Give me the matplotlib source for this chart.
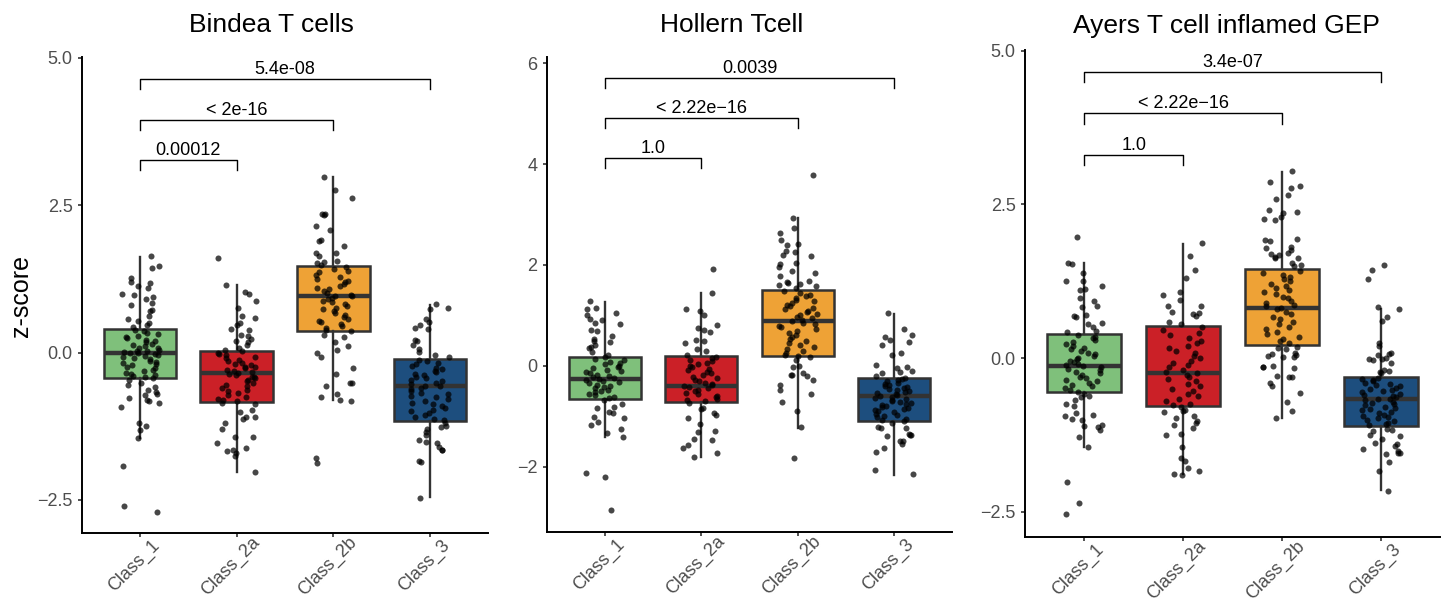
import matplotlib
matplotlib.use("Agg")
import matplotlib.pyplot as plt
import numpy as np
from matplotlib.transforms import ScaledTranslation

plt.rcParams["font.family"] = ["Liberation Sans", "DejaVu Sans"]

CLASSES = ["Class_1", "Class_2a", "Class_2b", "Class_3"]
BOX_COLORS = ["#7fc07b", "#cb2027", "#eea236", "#1d4e7e"]
PAIRS = [(1, 2), (1, 3), (1, 4)]

# --- Bindea T cells ---
bindea_class_1 = [1.63, 1.47, 1.43, 1.27, 1.19, 1.18, 1.13, 1.09, 0.99, 0.97, 0.94, 0.91, 0.84, 0.80,
                  0.72, 0.70, 0.62, 0.56, 0.53, 0.50, 0.46, 0.43,
                  0.39, 0.37, 0.33, 0.31, 0.28, 0.26, 0.24, 0.21, 0.19, 0.17, 0.15, 0.13, 0.11, 0.08,
                  0.07, 0.05, 0.03, 0.02, 0.01, 0.00, -0.01, -0.02, -0.04, -0.06, -0.08, -0.10, -0.11,
                  -0.14, -0.16, -0.18, -0.20, -0.22, -0.25, -0.27, -0.29, -0.31, -0.34, -0.36, -0.38,
                  -0.40, -0.42, -0.44,
                  -0.47, -0.52, -0.55, -0.58, -0.63, -0.67, -0.70, -0.72, -0.77, -0.80, -0.82, -0.86,
                  -0.93, -1.20, -1.25, -1.32, -1.45, -1.92, -2.60, -2.71]
bindea_class_2a = [1.60, 1.15, 1.02, 0.99, 0.88, 0.75, 0.62, 0.58, 0.50, 0.47, 0.40, 0.38, 0.30, 0.28,
                   0.23, 0.20, 0.18, 0.12, 0.07, 0.05,
                   0.02, 0.00, -0.03, -0.05, -0.08, -0.10, -0.13, -0.15, -0.17, -0.19, -0.21, -0.24,
                   -0.25, -0.27, -0.29, -0.31, -0.33, -0.34, -0.36, -0.38, -0.41, -0.42, -0.44, -0.47,
                   -0.49, -0.52, -0.55, -0.57, -0.60, -0.63, -0.66, -0.69, -0.72, -0.75, -0.78, -0.81,
                   -0.83,
                   -0.85, -0.87, -0.97, -1.01, -1.09, -1.10, -1.12, -1.19, -1.29, -1.43, -1.44, -1.53,
                   -1.62, -1.66, -1.67, -1.70, -1.76, -2.02]
bindea_class_2b = [2.98, 2.76, 2.62, 2.35, 2.34, 2.33, 2.15, 2.07, 1.90, 1.89, 1.80, 1.69, 1.68, 1.63,
                   1.55, 1.53, 1.52, 1.49,
                   1.45, 1.42, 1.38, 1.36, 1.31, 1.28, 1.25, 1.22, 1.19, 1.16, 1.12, 1.10, 1.07, 1.04,
                   1.01, 0.98, 0.96, 0.95, 0.93, 0.90, 0.87, 0.85, 0.82, 0.79, 0.76, 0.73, 0.70, 0.67,
                   0.63, 0.60, 0.57, 0.54, 0.51, 0.48, 0.45, 0.42, 0.39,
                   0.37, 0.30, 0.26, 0.17, 0.11, 0.04, 0.00, -0.07, -0.26, -0.37, -0.51, -0.52, -0.57,
                   -0.70, -0.76, -0.81, -0.82, -1.79, -1.87]
bindea_class_3 = [0.82, 0.76, 0.74, 0.57, 0.52, 0.47, 0.42, 0.40, 0.22, 0.20, 0.12, 0.06, 0.01, -0.05,
                  -0.08,
                  -0.12, -0.15, -0.18, -0.20, -0.23, -0.26, -0.28, -0.31, -0.33, -0.36, -0.38, -0.41,
                  -0.44, -0.46, -0.49, -0.51, -0.54, -0.56, -0.57, -0.60, -0.62, -0.65, -0.68, -0.70,
                  -0.73, -0.76, -0.79, -0.82, -0.85, -0.88, -0.91, -0.94, -0.97, -1.00, -1.03, -1.06,
                  -1.09, -1.12, -1.15,
                  -1.20, -1.25, -1.27, -1.29, -1.35, -1.40, -1.49, -1.52, -1.54, -1.60, -1.65, -1.66,
                  -1.84, -1.86, -2.46]
bindea_q1 = [-0.44, -0.84, 0.37, -1.16]
bindea_med = [0.00, -0.34, 0.95, -0.56]
bindea_q3 = [0.40, 0.03, 1.46, -0.11]
bindea_lo = [-1.45, -2.02, -0.81, -2.45]
bindea_hi = [1.62, 1.15, 2.98, 0.80]
bindea_pvals = ["0.00012", "< 2e-16", "5.4e-08"]
bindea_bracket_y = [3.27, 3.95, 4.63]

# --- Hollern Tcell ---
hollern_class_1 = [1.29, 1.14, 1.13, 1.04, 1.01, 0.92, 0.90, 0.85, 0.83, 0.71, 0.70, 0.60, 0.53, 0.49,
                   0.47, 0.42, 0.38, 0.36, 0.27, 0.22,
                   0.17, 0.14, 0.11, 0.08, 0.05, 0.03, 0.00, -0.03, -0.05, -0.08, -0.10, -0.13, -0.15,
                   -0.18, -0.20, -0.22, -0.24, -0.26, -0.27, -0.30, -0.32, -0.34, -0.37, -0.39, -0.42,
                   -0.44, -0.47, -0.49, -0.52, -0.55, -0.58, -0.61, -0.64,
                   -0.68, -0.76, -0.82, -0.84, -0.91, -0.94, -1.01, -1.03, -1.11, -1.17, -1.24, -1.32,
                   -1.40, -2.13, -2.21, -2.85]
hollern_class_2a = [1.93, 1.45, 1.13, 1.08, 1.00, 0.81, 0.76, 0.71, 0.68, 0.52, 0.49, 0.45, 0.33, 0.30,
                    0.22,
                    0.18, 0.15, 0.12, 0.09, 0.06, 0.03, 0.00, -0.03, -0.06, -0.09, -0.12, -0.15, -0.18,
                    -0.21, -0.24, -0.27, -0.30, -0.33, -0.36, -0.38, -0.40, -0.42, -0.44, -0.47, -0.50,
                    -0.53, -0.56, -0.59, -0.62, -0.65, -0.68, -0.70,
                    -0.74, -0.84, -0.86, -0.94, -0.98, -1.03, -1.16, -1.28, -1.31, -1.45, -1.46, -1.56,
                    -1.62, -1.73, -1.80]
hollern_class_2b = [3.78, 2.93, 2.74, 2.64, 2.49, 2.41, 2.40, 2.28, 2.25, 2.19, 2.17, 2.04, 2.01, 1.95,
                    1.89, 1.85, 1.78, 1.68, 1.67, 1.65, 1.62, 1.60, 1.58, 1.55,
                    1.48, 1.45, 1.41, 1.38, 1.35, 1.31, 1.28, 1.25, 1.21, 1.18, 1.15, 1.12, 1.09, 1.06,
                    1.03, 1.00, 0.97, 0.94, 0.91, 0.89, 0.86, 0.83, 0.80, 0.77, 0.73, 0.70, 0.66, 0.62,
                    0.58, 0.54, 0.50, 0.46, 0.42, 0.38, 0.34, 0.30, 0.26, 0.22,
                    0.19, 0.17, 0.11, 0.00, -0.02, -0.14, -0.17, -0.18, -0.20, -0.27, -0.37, -0.48,
                    -0.56, -0.71, -0.89, -1.21, -1.83]
hollern_class_3 = [1.04, 0.74, 0.61, 0.57, 0.52, 0.48, 0.42, 0.26, 0.22, 0.01, -0.03, -0.05, -0.11,
                   -0.13, -0.15, -0.19,
                   -0.23, -0.25, -0.28, -0.30, -0.33, -0.35, -0.37, -0.40, -0.42, -0.44, -0.46, -0.48,
                   -0.50, -0.52, -0.54, -0.56, -0.58, -0.60, -0.61, -0.63, -0.65, -0.67, -0.69, -0.71,
                   -0.73, -0.75, -0.77, -0.79, -0.81, -0.83, -0.85, -0.88, -0.90, -0.92, -0.95, -0.97,
                   -1.00, -1.02, -1.05, -1.07, -1.09,
                   -1.13, -1.21, -1.22, -1.23, -1.35, -1.36, -1.37, -1.38, -1.48, -1.49, -1.54, -1.62,
                   -1.70, -2.06, -2.15]
hollern_q1 = [-0.66, -0.71, 0.20, -1.10]
hollern_med = [-0.26, -0.40, 0.89, -0.60]
hollern_q3 = [0.18, 0.20, 1.50, -0.23]
hollern_lo = [-1.40, -1.80, -1.22, -2.16]
hollern_hi = [1.27, 1.45, 2.93, 1.03]
hollern_pvals = ["1.0", "< 2.22e\u221216", "0.0039"]
hollern_bracket_y = [4.12, 4.91, 5.70]

# --- Ayers T cell inflamed GEP ---
ayers_class_1 = [1.97, 1.55, 1.53, 1.38, 1.26, 1.25, 1.18, 1.12, 1.11, 0.97, 0.92, 0.84, 0.83, 0.70,
                 0.69, 0.66, 0.57, 0.55, 0.51, 0.44, 0.43,
                 0.38, 0.35, 0.32, 0.29, 0.26, 0.23, 0.20, 0.17, 0.14, 0.11, 0.08, 0.06, 0.03, 0.00,
                 -0.02, -0.05, -0.07, -0.10, -0.12, -0.13, -0.15, -0.17, -0.20, -0.22, -0.25, -0.27,
                 -0.30, -0.32, -0.35, -0.37, -0.40, -0.43, -0.46, -0.49, -0.52, -0.55,
                 -0.59, -0.62, -0.64, -0.68, -0.74, -0.78, -0.89, -0.93, -0.95, -0.99, -1.00, -1.09,
                 -1.11, -1.12, -1.17, -1.29, -1.44, -2.01, -2.35, -2.53]
ayers_class_2a = [1.87, 1.66, 1.44, 1.31, 1.07, 1.02, 0.94, 0.85, 0.84, 0.75, 0.74, 0.72, 0.69, 0.58,
                  0.56,
                  0.50, 0.46, 0.41, 0.37, 0.33, 0.28, 0.24, 0.20, 0.16, 0.12, 0.08, 0.04, 0.00, -0.04,
                  -0.08, -0.12, -0.15, -0.19, -0.22, -0.24, -0.27, -0.30, -0.34, -0.38, -0.42, -0.46,
                  -0.50, -0.54, -0.58, -0.62, -0.66, -0.70, -0.74, -0.77,
                  -0.80, -0.85, -0.86, -0.88, -0.94, -0.98, -1.02, -1.06, -1.09, -1.14, -1.23, -1.25,
                  -1.44, -1.63, -1.67, -1.78, -1.84, -1.88, -1.90]
ayers_class_2b = [3.04, 2.86, 2.80, 2.76, 2.66, 2.58, 2.40, 2.37, 2.36, 2.29, 2.26, 2.25, 1.93, 1.92,
                  1.91, 1.80, 1.79, 1.76, 1.71, 1.70, 1.68, 1.65, 1.63, 1.62, 1.54, 1.52, 1.50,
                  1.42, 1.39, 1.35, 1.32, 1.28, 1.25, 1.21, 1.18, 1.14, 1.11, 1.07, 1.04, 1.00, 0.97,
                  0.93, 0.90, 0.87, 0.84, 0.82, 0.79, 0.75, 0.71, 0.67, 0.63, 0.59, 0.55, 0.51, 0.47,
                  0.43, 0.39, 0.35, 0.31, 0.27, 0.24,
                  0.18, 0.17, 0.15, 0.09, 0.06, 0.05, 0.03, 0.02, 0.01, -0.13, -0.14, -0.15, -0.16,
                  -0.29, -0.30, -0.31, -0.40, -0.45, -0.57, -0.72, -0.86, -0.97]
ayers_class_3 = [1.51, 1.44, 1.28, 0.83, 0.80, 0.66, 0.61, 0.25, 0.19, 0.08, 0.06, 0.05, 0.00, -0.01,
                 -0.02, -0.03, -0.08, -0.20, -0.21, -0.22, -0.24,
                 -0.32, -0.34, -0.36, -0.38, -0.40, -0.42, -0.44, -0.46, -0.48, -0.50, -0.52, -0.54,
                 -0.56, -0.58, -0.60, -0.62, -0.64, -0.66, -0.67, -0.69, -0.71, -0.73, -0.75, -0.77,
                 -0.79, -0.81, -0.83, -0.85, -0.87, -0.89, -0.92, -0.94, -0.96, -0.98, -1.00, -1.03,
                 -1.05, -1.07, -1.09,
                 -1.15, -1.17, -1.18, -1.25, -1.26, -1.32, -1.38, -1.40, -1.43, -1.48, -1.51, -1.54,
                 -1.55, -1.56, -1.69, -1.83, -2.16]
ayers_q1 = [-0.56, -0.78, 0.22, -1.11]
ayers_med = [-0.13, -0.24, 0.82, -0.67]
ayers_q3 = [0.39, 0.52, 1.45, -0.31]
ayers_lo = [-1.45, -1.89, -0.97, -2.14]
ayers_hi = [1.55, 1.86, 3.02, 0.80]
ayers_pvals = ["1.0", "< 2.22e\u221216", "3.4e-07"]
ayers_bracket_y = [3.31, 3.98, 4.66]

FIG_W, FIG_H = 1447, 602


def px_axes(fig, left, top, right, bottom):
    return fig.add_axes([left / FIG_W, 1 - bottom / FIG_H, (right - left) / FIG_W, (bottom - top) / FIG_H])


def jitter_offsets(n, seed, width=0.2):
    # deterministic scatter of horizontal offsets in [-width, width]
    k = np.arange(n) + 1.0
    frac = (np.sin(k * 12.9898 + seed * 78.233) * 43758.5453) % 1.0
    return (frac - 0.5) * 2 * width


def draw_panel(ax, groups, q1, med, q3, lo, hi, pvals, bracket_y, yticks, ylim, seed):
    stats = []
    for i in range(4):
        stats.append({"whislo": lo[i], "q1": q1[i], "med": med[i], "q3": q3[i],
                      "whishi": hi[i], "fliers": []})
    bp = ax.bxp(stats, positions=[1, 2, 3, 4], widths=0.75, patch_artist=True,
                showcaps=False, showfliers=False,
                boxprops={"edgecolor": "#333333", "linewidth": 1.8},
                medianprops={"color": "#333333", "linewidth": 3.2, "solid_capstyle": "butt"},
                whiskerprops={"color": "#333333", "linewidth": 1.7})
    for patch, color in zip(bp["boxes"], BOX_COLORS):
        patch.set_facecolor(color)
        patch.set_zorder(2)

    for i, values in enumerate(groups):
        jitter = jitter_offsets(len(values), seed * 10 + i)
        ax.scatter(i + 1 + jitter, values, s=19, color="black", alpha=0.72,
                   linewidths=0, zorder=3)

    span = ylim[1] - ylim[0]
    tip = 0.021 * span
    for (a, b), label, y in zip(PAIRS, pvals, bracket_y):
        ax.plot([a, a, b, b], [y - tip, y, y, y - tip], color="black", lw=1.0, zorder=4)
        ax.annotate(label, xy=((a + b) / 2, y), xytext=(0, 3.6), textcoords="offset points",
                    ha="center", va="baseline", fontsize=13, color="black")

    ax.set_xlim(0.4, 4.6)
    ax.set_ylim(*ylim)
    ax.set_yticks(yticks)
    ax.set_xticks([1, 2, 3, 4])
    ax.set_xticklabels(CLASSES, rotation=45, ha="center", va="center", rotation_mode="anchor")
    for spine in ["top", "right"]:
        ax.spines[spine].set_visible(False)
    for spine in ["left", "bottom"]:
        ax.spines[spine].set_linewidth(1.4)
        ax.spines[spine].set_color("black")
    ax.tick_params(axis="both", length=2.8, width=1.2, color="#333333",
                   labelcolor="#4d4d4d", labelsize=13)
    ax.tick_params(axis="y", pad=4)
    ax.tick_params(axis="x", pad=0)
    offset = ScaledTranslation(-6 / 100, -29 / 100, ax.figure.dpi_scale_trans)
    for lab in ax.get_xticklabels():
        lab.set_transform(lab.get_transform() + offset)


fig = plt.figure(figsize=(FIG_W / 100, FIG_H / 100), dpi=100)

ax1 = px_axes(fig, 82, 57, 488, 533)
draw_panel(ax1, [bindea_class_1, bindea_class_2a, bindea_class_2b, bindea_class_3],
           bindea_q1, bindea_med, bindea_q3, bindea_lo, bindea_hi,
           bindea_pvals, bindea_bracket_y, [-2.5, 0.0, 2.5, 5.0], (-3.06, 5.01), seed=1)
ax1.set_yticklabels(["\u22122.5", "0.0", "2.5", "5.0"])

ax2 = px_axes(fig, 547, 57, 952, 532)
draw_panel(ax2, [hollern_class_1, hollern_class_2a, hollern_class_2b, hollern_class_3],
           hollern_q1, hollern_med, hollern_q3, hollern_lo, hollern_hi,
           hollern_pvals, hollern_bracket_y, [-2, 0, 2, 4, 6], (-3.29, 6.12), seed=2)

ax3 = px_axes(fig, 1025, 50, 1440, 537)
draw_panel(ax3, [ayers_class_1, ayers_class_2a, ayers_class_2b, ayers_class_3],
           ayers_q1, ayers_med, ayers_q3, ayers_lo, ayers_hi,
           ayers_pvals, ayers_bracket_y, [-2.5, 0.0, 2.5, 5.0], (-2.91, 5.01), seed=3)
ax3.set_yticklabels(["\u22122.5", "0.0", "2.5", "5.0"])

# panel titles and shared y label
title_base = 1 - 32.5 / FIG_H
fig.text(271 / FIG_W, title_base, "Bindea T cells", ha="center", va="baseline", fontsize=19)
fig.text(732 / FIG_W, title_base, "Hollern Tcell", ha="center", va="baseline", fontsize=19)
fig.text(1226 / FIG_W, title_base, "Ayers T cell inflamed GEP", ha="center", va="baseline", fontsize=19)
fig.text(21 / FIG_W, 1 - 296 / FIG_H, "z-score", rotation=90, ha="center", va="center", fontsize=18)

fig.savefig("out.png", dpi=100)
